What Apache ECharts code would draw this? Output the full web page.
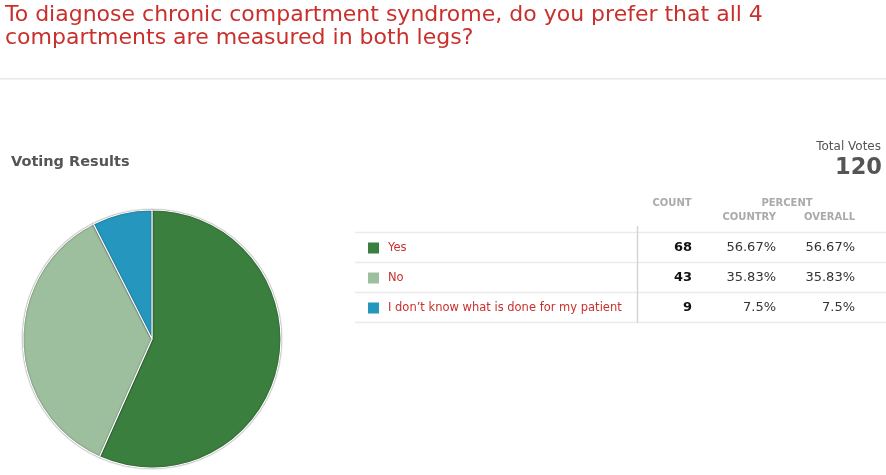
<!DOCTYPE html>
<html>
<head>
<meta charset="utf-8">
<script src="https://cdn.jsdelivr.net/npm/echarts@6/dist/echarts.min.js"></script>
<style>html,body{margin:0;padding:0;background:#fff;}#c{width:886px;height:475px;}</style>
</head>
<body>
<div id="c"></div>
<script>
const titleLines = ["To diagnose chronic compartment syndrome, do you prefer that all 4", "compartments are measured in both legs?"];
const categories = ["Yes", "No", "I don\u2019t know what is done for my patient"];
const counts = [68, 43, 9];
const countryPct = ["56.67%", "35.83%", "7.5%"];
const overallPct = ["56.67%", "35.83%", "7.5%"];
const colors = ["#3a7f3e", "#9dbf9e", "#2596be"];
const totalVotes = 120;

const FF = "DejaVu Sans";
function txt(x, y, text, size, weight, fill, align, va) {
  return {type:'text', x:x, y:y, style:{text:text, fontFamily:FF, fontSize:size, fontWeight:weight, fill:fill, align:align||'left', verticalAlign:va||'middle'}};
}
const chart = echarts.init(document.getElementById('c'));
const g = [];
titleLines.forEach((t, i) => g.push(txt(5, 15 + i*23, t, 22, 'normal', '#c9302c')));
g.push({type:'rect', shape:{x:0,y:78,width:886,height:1.5}, style:{fill:'#e8e8e8'}});
g.push(txt(11, 162, 'Voting Results', 14.5, 'bold', '#555'));
g.push(txt(881, 147, 'Total Votes', 12, 'normal', '#555', 'right'));
g.push(txt(882, 168, String(totalVotes), 22.5, 'bold', '#555', 'right'));
g.push(txt(672, 203, 'COUNT', 10, 'bold', '#aaa', 'center'));
g.push(txt(787, 203, 'PERCENT', 10, 'bold', '#aaa', 'center'));
g.push(txt(776, 217, 'COUNTRY', 10, 'bold', '#aaa', 'right'));
g.push(txt(855, 217, 'OVERALL', 10, 'bold', '#aaa', 'right'));
const lineYs = [232.5, 262.5, 292.5, 322.5];
lineYs.forEach(y => g.push({type:'line', shape:{x1:355,y1:y,x2:886,y2:y}, style:{stroke:'#ebebeb', lineWidth:1.5}}));
g.push({type:'line', shape:{x1:637.5,y1:226,x2:637.5,y2:323}, style:{stroke:'#d4d4d4', lineWidth:1.5}});
categories.forEach((c, i) => {
  const y = 248 + i*30;
  g.push({type:'rect', shape:{x:368, y:y-5.5, width:11, height:11}, style:{fill:colors[i]}});
  g.push(txt(388, y, c, 11.5, 'normal', '#c9302c'));
  g.push(txt(692, y, String(counts[i]), 13, 'bold', '#111', 'right'));
  g.push(txt(776, y, countryPct[i], 13, 'normal', '#333', 'right'));
  g.push(txt(855, y, overallPct[i], 13, 'normal', '#333', 'right'));
});

chart.setOption({
  animation:false,
  graphic:g,
  series:[{
    type:'pie',
    center:[152,339],
    radius:[0,129],
    startAngle:90,
    clockwise:true,
    label:{show:false},
    labelLine:{show:false},
    emphasis:{disabled:true},
    itemStyle:{borderColor:'#fff', borderWidth:1.2, shadowColor:'rgba(0,0,0,0.6)', shadowBlur:1.5},
    data:categories.map((c,i)=>({name:c, value:counts[i], itemStyle:{color:colors[i]}}))
  }]
});
</script>
</body>
</html>
